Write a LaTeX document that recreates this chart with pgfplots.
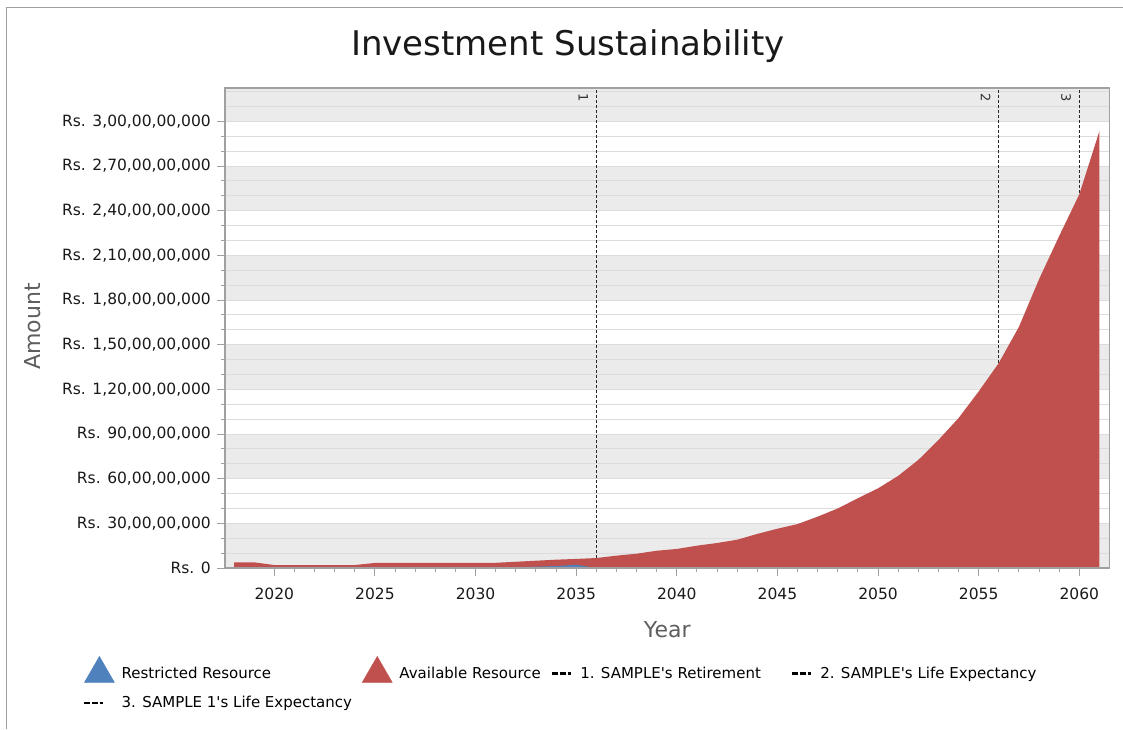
\documentclass[border=0pt]{standalone}
\usepackage{pgfplots}
\pgfplotsset{compat=1.18}
\usepackage{pgfplotstable}
\usepackage{fontspec}
\setmainfont{DejaVu Sans}[Ligatures=TeXOff]
\definecolor{redarea}{HTML}{C0504D}
\definecolor{bluearea}{HTML}{4F81BD}
\definecolor{band}{HTML}{EBEBEB}
\definecolor{gridc}{HTML}{DCDCDC}
\definecolor{axisc}{HTML}{A0A0A0}
\definecolor{labc}{HTML}{5E5E5E}

% amounts in crore rupees (1 crore = 1,00,00,000)
\pgfplotstableread{
year avail
2018 3.8
2019 3.8
2020 2.0
2021 2.0
2022 2.0
2023 2.0
2024 2.0
2025 3.4
2026 3.5
2027 3.5
2028 3.5
2029 3.5
2030 3.5
2031 3.5
2032 4.2
2033 4.9
2034 5.6
2035 6.1
2036 6.7
2037 8.3
2038 9.6
2039 11.6
2040 12.8
2041 15.0
2042 16.8
2043 19.0
2044 22.9
2045 26.4
2046 29.5
2047 34.5
2048 40.0
2049 46.9
2050 53.5
2051 61.9
2052 72.6
2053 86.0
2054 100.7
2055 118.6
2056 137.7
2057 162.0
2058 194.0
2059 223.0
2060 251.0
2061 293.5
}\availtable

\pgfplotstableread{
year restr
2031 0
2032 0.6
2033 0.9
2034 1.3
2035 2.2
2036 0
}\restrtable

\pgfplotstableread{
x y
2017.55 10
2061.5 10
2040 nan
2017.55 20
2061.5 20
2040 nan
2017.55 30
2061.5 30
2040 nan
2017.55 40
2061.5 40
2040 nan
2017.55 50
2061.5 50
2040 nan
2017.55 60
2061.5 60
2040 nan
2017.55 70
2061.5 70
2040 nan
2017.55 80
2061.5 80
2040 nan
2017.55 90
2061.5 90
2040 nan
2017.55 100
2061.5 100
2040 nan
2017.55 110
2061.5 110
2040 nan
2017.55 120
2061.5 120
2040 nan
2017.55 130
2061.5 130
2040 nan
2017.55 140
2061.5 140
2040 nan
2017.55 150
2061.5 150
2040 nan
2017.55 160
2061.5 160
2040 nan
2017.55 170
2061.5 170
2040 nan
2017.55 180
2061.5 180
2040 nan
2017.55 190
2061.5 190
2040 nan
2017.55 200
2061.5 200
2040 nan
2017.55 210
2061.5 210
2040 nan
2017.55 220
2061.5 220
2040 nan
2017.55 230
2061.5 230
2040 nan
2017.55 240
2061.5 240
2040 nan
2017.55 250
2061.5 250
2040 nan
2017.55 260
2061.5 260
2040 nan
2017.55 270
2061.5 270
2040 nan
2017.55 280
2061.5 280
2040 nan
2017.55 290
2061.5 290
2040 nan
2017.55 300
2061.5 300
2040 nan
2017.55 310
2061.5 310
2040 nan
2017.55 320
2061.5 320
}\gridtable

\begin{document}
\begin{tikzpicture}
\path[use as bounding box] (-225pt,-161pt) rectangle (898pt,568pt);
\draw[axisc, line width=1pt] (-218pt,-161pt) -- (-218pt,560pt) -- (898pt,560pt);
\node[font=\fontsize{34}{40}\selectfont, text=black!90, anchor=base] at (343pt,512pt) {Investment Sustainability};
\begin{axis}[
  axis on top,
  scale only axis, width=884.5pt, height=480pt,
  xmin=2017.55, xmax=2061.5, ymin=0, ymax=322.4,
  scaled y ticks=false, scaled x ticks=false,
  axis line style={axisc, line width=1.2pt},
  xtick={2020,2025,2030,2035,2040,2045,2050,2055,2060},
  xticklabels={2020,2025,2030,2035,2040,2045,2050,2055,2060},
  minor x tick num=4,
  ytick={0,30,60,90,120,150,180,210,240,270,300},
  yticklabels={{Rs. 0},{Rs. 30,00,00,000},{Rs. 60,00,00,000},{Rs. 90,00,00,000},{Rs. 1,20,00,00,000},{Rs. 1,50,00,00,000},{Rs. 1,80,00,00,000},{Rs. 2,10,00,00,000},{Rs. 2,40,00,00,000},{Rs. 2,70,00,00,000},{Rs. 3,00,00,00,000}},
  minor y tick num=2,
  xtick pos=left, ytick pos=left,
  tick align=outside, major tick length=8pt, minor tick length=4pt,
  tick style={axisc, line width=1pt},
  tick label style={font=\fontsize{15.5}{18}\selectfont, text=black!90},
  xticklabel style={inner sep=0pt, anchor=north, yshift=-12pt},
  yticklabel style={inner sep=0pt, anchor=east, xshift=-6pt},
  xlabel={Year}, ylabel={Amount},
  label style={font=\fontsize{22}{26}\selectfont, text=labc},
  x label style={at={(axis description cs:0.5,-0.128)}, anchor=center},
  y label style={at={(axis description cs:-0.2171,0.503)}, anchor=center},
  legend style={at={(axis description cs:-0.1605,-0.1833)}, anchor=north west,
    draw=none, fill=none, inner sep=0pt, font=\fontsize{15}{18}\selectfont,
    /tikz/row sep=12pt,
    /tikz/every odd column/.append style={column sep=5pt},
    /tikz/every even column/.append style={column sep=8pt}},
  legend columns=4,
  legend cell align=left,
]
% background bands
\addplot[forget plot, fill=band, draw=none] coordinates {(2017.55,0)(2017.55,30)(2061.5,30)(2061.5,0)};
\addplot[forget plot, fill=band, draw=none] coordinates {(2017.55,60)(2017.55,90)(2061.5,90)(2061.5,60)};
\addplot[forget plot, fill=band, draw=none] coordinates {(2017.55,120)(2017.55,150)(2061.5,150)(2061.5,120)};
\addplot[forget plot, fill=band, draw=none] coordinates {(2017.55,180)(2017.55,210)(2061.5,210)(2061.5,180)};
\addplot[forget plot, fill=band, draw=none] coordinates {(2017.55,240)(2017.55,270)(2061.5,270)(2061.5,240)};
\addplot[forget plot, fill=band, draw=none] coordinates {(2017.55,300)(2017.55,322.4)(2061.5,322.4)(2061.5,300)};

% horizontal grid lines (every 10 crore)
\addplot[forget plot, gridc, line width=1pt, unbounded coords=jump] table[x=x,y=y]{\gridtable};

% event lines
\addplot[forget plot, black!85, line width=1.3pt, dash pattern=on 3pt off 2pt] coordinates {(2036,0)(2036,322.4)};
\addplot[forget plot, black!85, line width=1.3pt, dash pattern=on 3pt off 2pt] coordinates {(2056,0)(2056,322.4)};
\addplot[forget plot, black!85, line width=1.3pt, dash pattern=on 3pt off 2pt] coordinates {(2060,0)(2060,322.4)};

% areas
\addplot[forget plot, fill=redarea, draw=none] table[x=year,y=avail]{\availtable} \closedcycle;
\addplot[forget plot, fill=bluearea, draw=none] table[x=year,y=restr]{\restrtable} \closedcycle;

\node[rotate=-90, anchor=north west, inner sep=0pt, font=\fontsize{13}{15}\selectfont, text=black!80] at (axis cs:2035.6,319) {1};
\node[rotate=-90, anchor=north west, inner sep=0pt, font=\fontsize{13}{15}\selectfont, text=black!80] at (axis cs:2055.6,319) {2};
\node[rotate=-90, anchor=north west, inner sep=0pt, font=\fontsize{13}{15}\selectfont, text=black!80] at (axis cs:2059.6,319) {3};

% legend
\addlegendimage{legend image code/.code={\fill[bluearea] (0pt,-9pt) -- (15pt,17pt) -- (30pt,-9pt) -- cycle;}}
\addlegendentry{Restricted Resource}
\addlegendimage{legend image code/.code={\fill[redarea] (0pt,-9pt) -- (15pt,17pt) -- (30pt,-9pt) -- cycle;}}
\addlegendentry{Available Resource}
\addlegendimage{legend image code/.code={\draw[black, line width=2.4pt, dash pattern=on 6pt off 2pt on 6pt off 2pt on 2.5pt off 10pt] (0pt,0pt) -- (20pt,0pt);}}
\addlegendentry{1. SAMPLE's Retirement\rule{20pt}{0pt}}
\addlegendimage{legend image code/.code={\draw[black, line width=2.4pt, dash pattern=on 6pt off 2pt on 6pt off 2pt on 2.5pt off 10pt] (0pt,0pt) -- (20pt,0pt);}}
\addlegendentry{2. SAMPLE's Life Expectancy}
\addlegendimage{legend image code/.code={\draw[black, line width=2.4pt, dash pattern=on 6pt off 2pt on 6pt off 2pt on 2.5pt off 10pt] (0pt,0pt) -- (20pt,0pt);}}
\addlegendentry{3. SAMPLE 1's Life Expectancy}
\end{axis}
\end{tikzpicture}
\end{document}
